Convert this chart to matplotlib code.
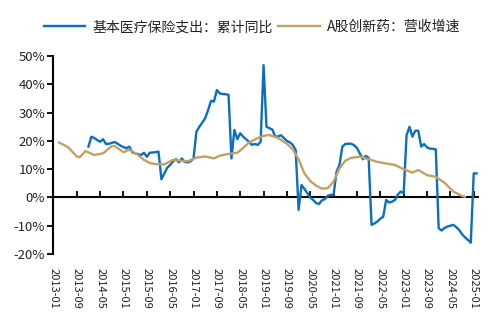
import matplotlib
matplotlib.use("Agg")
import matplotlib.pyplot as plt

plt.rcParams['font.family'] = ['Noto Sans CJK SC', 'DejaVu Sans']

# 基本医疗保险支出：累计同比 (monthly, %), 2014-01 .. 2025-02
blue_start = "2014-01"
blue_values = [
    18.0, 21.5, 21.0, 20.3, 19.7, 20.6, 18.9, 19.0, 19.3, 19.6, 19.0, 18.3,   # 2014
    17.8, 17.4, 18.0, 16.0, 15.6, 15.3, 15.0, 15.8, 14.4, 15.8, 15.9, 16.0,   # 2015
    16.2, 6.4, 8.5, 10.5, 11.5, 12.8, 13.5, 12.4, 13.8, 12.6, 12.4, 12.8,     # 2016
    13.8, 23.3, 25.0, 26.5, 28.0, 30.9, 34.2, 33.9, 38.0, 36.8, 36.6, 36.5,   # 2017
    36.3, 13.8, 23.9, 20.6, 22.7, 21.5, 20.6, 19.7, 18.6, 18.9, 18.6, 19.7,   # 2018
    46.8, 25.0, 24.5, 24.0, 21.5, 21.6, 22.0, 21.0, 20.0, 19.5, 18.6, 16.8,   # 2019
    -4.4, 4.4, 3.0, 1.5, 0.0, -0.9, -2.0, -2.3, -1.0, -0.6, 0.6, 0.9,         # 2020
    1.0, 9.1, 11.5, 18.0, 18.9, 19.0, 19.0, 18.5, 17.5, 15.5, 13.5, 14.7,     # 2021
    14.0, -9.7, -9.2, -8.5, -7.5, -6.8, -0.9, -1.8, -1.5, -0.9, 1.0, 2.1,     # 2022
    1.5, 22.0, 25.0, 21.5, 23.6, 23.6, 18.0, 18.9, 17.7, 17.3, 17.2, 17.0,    # 2023
    -10.9, -11.7, -10.8, -10.3, -10.0, -9.7, -10.5, -11.5, -13.0, -14.1, -15.0, -16.0,  # 2024
    8.5, 8.5,                                                                 # 2025
]

# A股创新药：营收增速 (%)
tan_dates = [
    "2013-03", "2013-06", "2013-09", "2013-10", "2013-12", "2014-03", "2014-06",
    "2014-09", "2014-10", "2015-01", "2015-03", "2015-06", "2015-08", "2015-10",
    "2015-12", "2016-03", "2016-06", "2016-08", "2016-11", "2017-02", "2017-05",
    "2017-08", "2017-10", "2018-01", "2018-04", "2018-06", "2018-08", "2018-11",
    "2019-01", "2019-03", "2019-06", "2019-09", "2019-11", "2020-01", "2020-03",
    "2020-05", "2020-07", "2020-09", "2020-11", "2021-01", "2021-03", "2021-05",
    "2021-07", "2021-10", "2022-01", "2022-04", "2022-07", "2022-10", "2023-01",
    "2023-04", "2023-06", "2023-09", "2023-12", "2024-03", "2024-06", "2024-09",
    "2024-10",
]
tan_values = [
    19.4, 17.8, 14.5, 14.2, 16.4, 15.0, 15.6,
    18.2, 18.2, 16.0, 16.9, 15.0, 13.3, 12.2,
    11.8, 11.7, 13.3, 13.0, 12.8, 14.1, 14.5,
    13.8, 14.8, 15.4, 15.8, 17.5, 19.4, 21.0,
    21.8, 22.1, 21.0, 19.0, 17.0, 13.5, 8.5,
    5.8, 4.2, 3.1, 3.3, 5.6, 10.3, 13.0,
    14.0, 14.4, 13.5, 12.6, 12.0, 11.5, 10.0,
    8.8, 9.7, 7.9, 7.3, 5.2, 2.1, 0.5,
    0.2,
]

xtick_labels = [
    "2013-01", "2013-09", "2014-05", "2015-01", "2015-09", "2016-05", "2017-01",
    "2017-09", "2018-05", "2019-01", "2019-09", "2020-05", "2021-01", "2021-09",
    "2022-05", "2023-01", "2023-09", "2024-05", "2025-01",
]

yticks = [-20, -10, 0, 10, 20, 30, 40, 50]

label_blue = "基本医疗保险支出：累计同比"
label_tan = "A股创新药：营收增速"


def month_index(s):
    y, m = s.split("-")
    return (int(y) - 2013) * 12 + int(m) - 1


b0 = month_index(blue_start)
blue_x = [b0 + i for i in range(len(blue_values))]
tan_x = [month_index(d) for d in tan_dates]
tick_x = [month_index(d) for d in xtick_labels]

fig = plt.figure(figsize=(5.04, 3.32), dpi=100)
ax = fig.add_axes([0.106, 0.235, 0.842, 0.596])

l1, = ax.plot(blue_x, blue_values, color="#0A6FBF", lw=1.7, solid_joinstyle="round")
l2, = ax.plot(tan_x, tan_values, color="#C4A062", lw=1.7, solid_joinstyle="round")

ax.set_xlim(0, 145.4)
ax.set_ylim(-20, 50)
ax.set_yticks(yticks)
ax.set_yticklabels([f"{v}%" for v in yticks])
ax.tick_params(axis="y", direction="out", length=4, width=1.3, labelsize=9.5,
               pad=2, colors="black")
for lab in ax.get_yticklabels():
    lab.set_color("#222222")

for s in ("top", "right"):
    ax.spines[s].set_visible(False)
ax.spines["left"].set_linewidth(1.5)
ax.spines["bottom"].set_position(("data", 0))
ax.spines["bottom"].set_linewidth(1.5)
ax.spines["bottom"].set_zorder(1)

ax.set_xticks(tick_x)
ax.tick_params(axis="x", direction="in", length=4, width=1.3, labelbottom=False)

sec = ax.secondary_xaxis("bottom")
sec.spines["bottom"].set_visible(False)
sec.set_xticks(tick_x)
sec.set_xticklabels(xtick_labels)
sec.tick_params(axis="x", length=0, pad=10, labelsize=8, labelrotation=270,
                colors="#222222")

fig.legend([l1, l2], [label_blue, label_tan], loc="center",
           bbox_to_anchor=(0.5, 0.918), ncol=2, frameon=False, fontsize=10,
           handlelength=3.0, handletextpad=0.5, columnspacing=0.4,
           labelcolor="#222222")

fig.savefig("out.png", dpi=100)
